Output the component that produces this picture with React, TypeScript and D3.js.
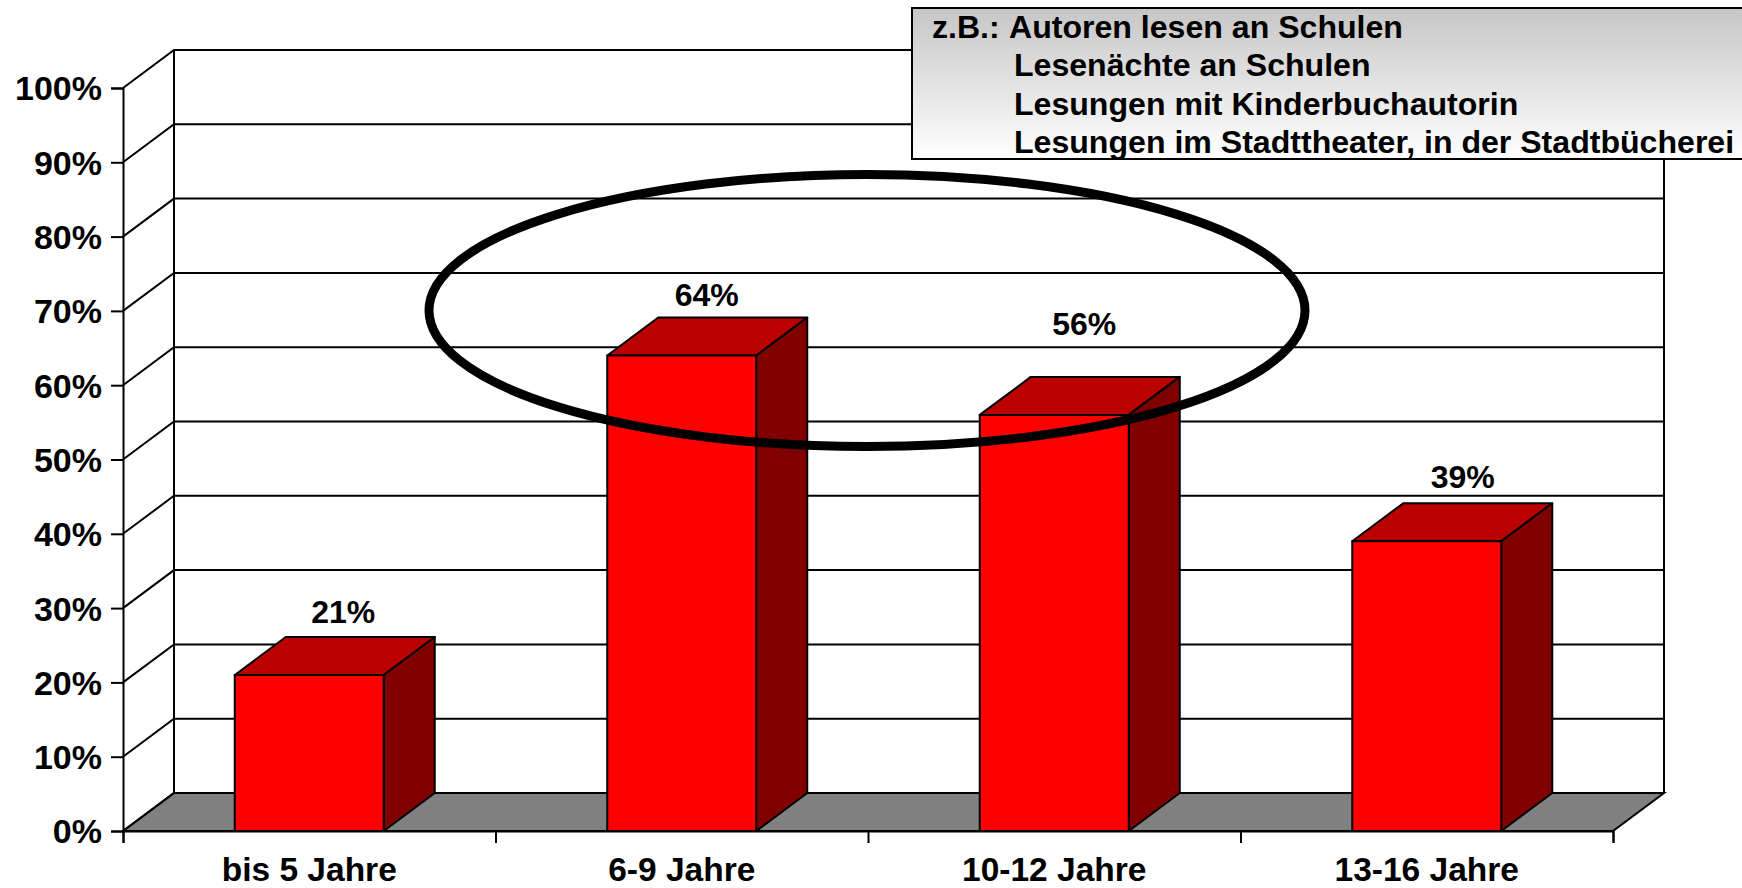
import React, { useEffect, useRef } from 'react';
import * as d3 from 'd3';

const categories = ['bis 5 Jahre', '6-9 Jahre', '10-12 Jahre', '13-16 Jahre'];
const values = [21, 64, 56, 39];
const yTicks = [0, 10, 20, 30, 40, 50, 60, 70, 80, 90, 100];
const noteLines = [
  'Autoren lesen an Schulen',
  'Lesenächte an Schulen',
  'Lesungen mit Kinderbuchautorin',
  'Lesungen im Stadttheater, in der Stadtbücherei',
];

const WIDTH = 1742;
const HEIGHT = 888;
const FONT = '"Liberation Sans", Arial, sans-serif';

// plot box, front plane, plus the 3d shift of the back wall
const left = 123;
const right = 1613;
const bottom = 831;
const top = 88;
const depthX = 51;
const depthY = 38;

// data labels were moved by hand in the original
const labelDx = [34, 25, 30, 36];
const labelDy = [14, 11, 42, 15];

export default function App() {
  const ref = useRef<SVGSVGElement | null>(null);

  useEffect(() => {
    const svg = d3.select(ref.current);
    svg.selectAll('*').remove();

    const x = d3.scaleBand<string>()
      .domain(categories)
      .range([left, right])
      .paddingInner(0.6)
      .paddingOuter(0.3);
    const y = d3.scaleLinear().domain([0, 100]).range([bottom, top]);
    const xTicks = d3.scaleLinear().domain([0, categories.length]).range([left, right]);

    const line = d3.line();
    const poly = (pts: [number, number][]) => line(pts) + 'Z';

    const defs = svg.append('defs');
    const grad = defs.append('linearGradient')
      .attr('id', 'noteFill')
      .attr('x1', 0).attr('y1', 0).attr('x2', 0).attr('y2', 1);
    grad.append('stop').attr('offset', '0%').attr('stop-color', '#c6c6c6');
    grad.append('stop').attr('offset', '100%').attr('stop-color', '#ffffff');

    // floor
    svg.append('path')
      .attr('d', poly([
        [left, bottom],
        [right, bottom],
        [right + depthX, bottom - depthY],
        [left + depthX, bottom - depthY],
      ]))
      .attr('fill', '#808080')
      .attr('stroke', '#000')
      .attr('stroke-width', 2);

    // grid on the side and back wall
    const grid = svg.append('g').attr('fill', 'none').attr('stroke', '#000').attr('stroke-width', 2);
    yTicks.forEach((t) => {
      grid.append('path').attr('d', line([
        [left, y(t)],
        [left + depthX, y(t) - depthY],
        [right + depthX, y(t) - depthY],
      ]));
    });
    grid.append('path').attr('d', line([[left + depthX, y(100) - depthY], [left + depthX, y(0) - depthY]]));
    grid.append('path').attr('d', line([[right + depthX, y(100) - depthY], [right + depthX, y(0) - depthY]]));

    // bars
    const bars = svg.append('g').attr('stroke', '#000').attr('stroke-width', 2).attr('stroke-linejoin', 'round');
    categories.forEach((c, i) => {
      const x0 = x(c)!;
      const x1 = x0 + x.bandwidth();
      const yv = y(values[i]);
      bars.append('path')
        .attr('d', poly([[x0, yv], [x1, yv], [x1 + depthX, yv - depthY], [x0 + depthX, yv - depthY]]))
        .attr('fill', '#bb0000');
      bars.append('path')
        .attr('d', poly([[x1, yv], [x1 + depthX, yv - depthY], [x1 + depthX, bottom - depthY], [x1, bottom]]))
        .attr('fill', '#800000');
      bars.append('rect')
        .attr('x', x0).attr('y', yv)
        .attr('width', x1 - x0).attr('height', bottom - yv)
        .attr('fill', '#ff0000');
    });

    // axes
    const yAxis = svg.append('g')
      .attr('transform', `translate(${left},0)`)
      .call(d3.axisLeft(y).tickValues(yTicks).tickSize(12).tickPadding(9).tickFormat((d) => `${d}%`));
    const xAxis = svg.append('g')
      .attr('transform', `translate(0,${bottom})`)
      .call(d3.axisBottom(xTicks).ticks(categories.length).tickSize(12).tickFormat(() => ''));
    [yAxis, xAxis].forEach((a) => {
      a.selectAll('path,line').attr('stroke', '#000').attr('stroke-width', 2);
    });
    yAxis.selectAll('text')
      .attr('fill', '#000')
      .attr('font-family', FONT)
      .attr('font-weight', 700)
      .attr('font-size', 34)
      .attr('dy', '0.35em');

    // category labels
    svg.append('g').selectAll('text')
      .data(categories)
      .enter()
      .append('text')
      .attr('x', (d) => x(d)! + x.bandwidth() / 2)
      .attr('y', 881)
      .attr('text-anchor', 'middle')
      .attr('font-family', FONT)
      .attr('font-weight', 700)
      .attr('font-size', 33.5)
      .text((d) => d);

    // value labels
    svg.append('g').selectAll('text')
      .data(values)
      .enter()
      .append('text')
      .attr('x', (d, i) => x(categories[i])! + x.bandwidth() / 2 + labelDx[i])
      .attr('y', (d, i) => y(d) - depthY - labelDy[i])
      .attr('text-anchor', 'middle')
      .attr('font-family', FONT)
      .attr('font-weight', 700)
      .attr('font-size', 32)
      .text((d) => `${d}%`);

    // hand drawn ellipse
    svg.append('ellipse')
      .attr('cx', 867).attr('cy', 310.5)
      .attr('rx', 438).attr('ry', 136)
      .attr('fill', 'none')
      .attr('stroke', '#000')
      .attr('stroke-width', 9);

    // note box, runs off the right edge of the page
    svg.append('rect')
      .attr('x', 912).attr('y', 8)
      .attr('width', 840).attr('height', 151)
      .attr('fill', 'url(#noteFill)')
      .attr('stroke', '#000')
      .attr('stroke-width', 2);
    const note = svg.append('g')
      .attr('font-family', FONT)
      .attr('font-weight', 700)
      .attr('font-size', 32.1);
    note.append('text').attr('x', 932).attr('y', 38).text('z.B.:');
    note.selectAll('text.line')
      .data(noteLines)
      .enter()
      .append('text')
      .attr('class', 'line')
      .attr('x', (d, i) => (i === 0 ? 1009 : 1014))
      .attr('y', (d, i) => 38 + i * 38.3)
      .text((d) => d);
  }, []);

  return (
    <svg
      ref={ref}
      width={WIDTH}
      height={HEIGHT}
      style={{ position: 'absolute', left: 0, top: 0, display: 'block', background: '#fff' }}
    />
  );
}
